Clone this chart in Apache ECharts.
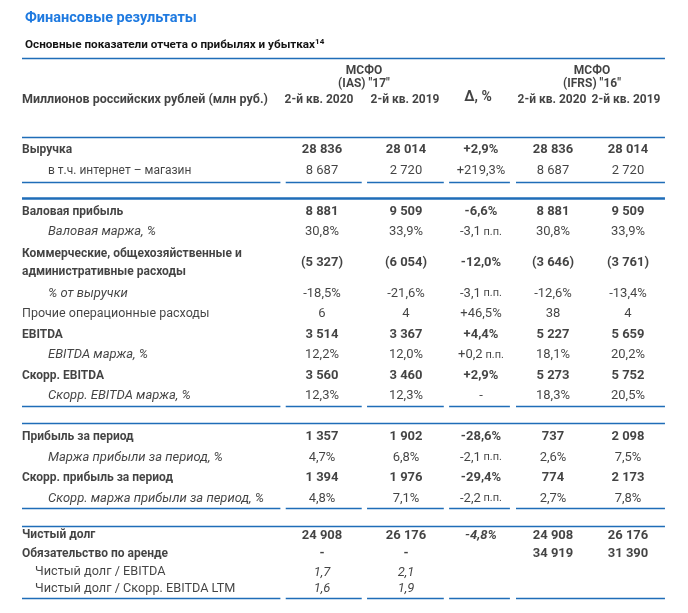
<!DOCTYPE html>
<html><head><meta charset="utf-8">
<script src="https://cdn.jsdelivr.net/npm/echarts@6/dist/echarts.min.js"></script>
<style>html,body{margin:0;padding:0;background:#fff}#c{width:688px;height:613px}</style>
</head><body><div id="c"></div>
<script>
// ---- data ----
const titleText = 'Финансовые результаты';
const subtitleText = 'Основные показатели отчета о прибылях и убытках';
const subtitleNote = '14';
const unitLabel = 'Миллионов российских рублей (млн руб.)';
const groupHeaders = ['МСФО\n(IAS) "17"', 'МСФО\n(IFRS) "16"'];
const colHeaders = ['2-й кв. 2020', '2-й кв. 2019', 'Δ, %', '2-й кв. 2020', '2-й кв. 2019'];
const rowLabels = [
  'Выручка',
  'в т.ч. интернет – магазин',
  'Валовая прибыль',
  'Валовая маржа, %',
  'Коммерческие, общехозяйственные и\nадминистративные расходы',
  '% от выручки',
  'Прочие операционные расходы',
  'EBITDA',
  'EBITDA маржа, %',
  'Скорр. EBITDA',
  'Скорр. EBITDA маржа, %',
  'Прибыль за период',
  'Маржа прибыли за период, %',
  'Скорр. прибыль за период',
  'Скорр. маржа прибыли за период, %',
  'Чистый долг',
  'Обязательство по аренде',
  'Чистый долг / EBITDA',
  'Чистый долг / Скорр. EBITDA LTM'
];
const iasQ2020 = ['28 836','8 687','8 881','30,8%','(5 327)','-18,5%','6','3 514','12,2%','3 560','12,3%','1 357','4,7%','1 394','4,8%','24 908','-','1,7','1,6'];
const iasQ2019 = ['28 014','2 720','9 509','33,9%','(6 054)','-21,6%','4','3 367','12,0%','3 460','12,3%','1 902','6,8%','1 976','7,1%','26 176','-','2,1','1,9'];
const deltaPct = ['+2,9%','+219,3%','-6,6%','-3,1 п.п.','-12,0%','-3,1 п.п.','+46,5%','+4,4%','+0,2 п.п.','+2,9%','-','-28,6%','-2,1 п.п.','-29,4%','-2,2 п.п.','-4,8%','','',''];
const ifrsQ2020 = ['28 836','8 687','8 881','30,8%','(3 646)','-12,6%','38','5 227','18,1%','5 273','18,3%','737','2,6%','774','2,7%','24 908','34 919','',''];
const ifrsQ2019 = ['28 014','2 720','9 509','33,9%','(3 761)','-13,4%','4','5 659','20,2%','5 752','20,5%','2 098','7,5%','2 173','7,8%','26 176','31 390','',''];

// ---- styles / layout ----
// row kinds: b = bold, n = indented normal, i = indented italic, r = regular, s = small indent with italic values
const rowKind = ['b','n','b','i','b','i','r','b','i','b','i','b','i','b','i','b','b','s','s'];
const INK = '#141414';
const BLUE = '#1f6db8';
const FONT = 'Roboto';
const colNudge = [-4, 4, 3, -1, -2];      // fine label alignment per column (px)
const headNudge = [-7, 3, 0, -2, -4];

const rowPos = [];
(function () {
  let p = 0;
  for (let i = 0; i < rowLabels.length; i++) {
    if (i > 0) {
      let step = 1;
      if (i === 2) step = 2;
      if (i === 4 || i === 5) step = 1.5;
      if (i === 11) step = 2;
      if (i === 15) step = 1.8;
      if (i > 15) step = (i === 18 ? 0.8 : 0.9);
      p += step;
    }
    rowPos.push(p);
  }
})();

const valueCols = [iasQ2020, iasQ2019, deltaPct, ifrsQ2020, ifrsQ2019];
const LABEL_X = -4;

function valueStyle(kind, col, r) {
  const s = { fontFamily: FONT, fontSize: 13, color: INK, fontWeight: 'normal', fontStyle: 'normal', offset: [colNudge[col], 0] };
  if (kind === 'b') s.fontWeight = 'bold';
  if (kind === 's') s.fontStyle = 'italic';
  if (r === 15 && col === 2) s.fontStyle = 'italic';
  s.rich = { pp: { fontFamily: FONT, fontSize: 11, color: INK, fontWeight: s.fontWeight } };
  return s;
}
function fmtValue(v) {
  const k = v.indexOf(' п.п.');
  return k >= 0 ? v.slice(0, k) + '{pp| п.п.}' : v;
}
function labelStyle(kind) {
  const s = { fontFamily: FONT, fontSize: 12, color: INK, fontWeight: 'normal', fontStyle: 'normal', offset: [0, 0] };
  if (kind === 'b') { s.fontWeight = 'bold'; s.lineHeight = 18; }
  if (kind === 'n') { s.offset = [26, 0]; s.fontSize = 12; }
  if (kind === 'i') { s.fontStyle = 'italic'; s.offset = [26, 0]; s.fontSize = 13; }
  if (kind === 'r') { s.fontSize = 12.5; }
  if (kind === 's') { s.offset = [13, 0]; s.fontSize = 12.7; }
  return s;
}

const labelData = rowLabels.map((t, r) => ({
  value: [LABEL_X, rowPos[r]], name: t,
  label: Object.assign({ show: true, position: 'right', distance: 0, formatter: t }, labelStyle(rowKind[r]))
}));

const valueSeries = valueCols.map((arr, c) => ({
  type: 'scatter', symbolSize: 0, silent: true, animation: false,
  data: arr.map((v, r) => ({
    value: [c, rowPos[r]],
    label: Object.assign({ show: v !== '', position: 'inside', formatter: fmtValue(v) }, valueStyle(rowKind[r], c, r))
  }))
}));

// header
const H_COL = -2.44, H_GROUP = -3.56, H_DELTA = -2.54;
const headerData = [];
headerData.push({ value: [LABEL_X, H_COL], label: { show: true, position: 'right', distance: 0, formatter: unitLabel, fontFamily: FONT, fontSize: 12.5, fontWeight: 'bold', color: INK } });
colHeaders.forEach((t, c) => {
  const isDelta = c === 2;
  headerData.push({ value: [c, isDelta ? H_DELTA : H_COL], label: { show: true, position: 'inside', offset: [headNudge[c], 0], formatter: t, fontFamily: FONT, fontSize: isDelta ? 14 : 12, fontWeight: 'bold', color: INK } });
});
groupHeaders.forEach((t, g) => {
  headerData.push({ value: [g === 0 ? 0.5 : 3.5, H_GROUP], label: { show: true, position: 'inside', formatter: t, fontFamily: FONT, fontSize: 12, lineHeight: 13, fontWeight: 'bold', color: INK } });
});

// rules
const FULL = [[-4, 4.46]];
const SEG = [[-4, -0.6], [-0.53, 0.47], [0.54, 1.55], [1.62, 2.42], [2.5, 4.46]];
function rule(y, segs, w) {
  return segs.map(s => [{ coord: [s[0], y], lineStyle: { color: BLUE, width: w || 1.3, type: 'solid' } }, { coord: [s[1], y] }]);
}
const rules = [].concat(
  rule(-4.49, FULL),
  rule(-0.63, FULL),
  rule(rowPos[1] + 0.56, SEG),
  rule(rowPos[2] - 0.66, FULL, 2.6),
  rule(rowPos[10] + 0.49, SEG),
  rule(rowPos[11] - 0.68, FULL),
  rule(rowPos[14] + 0.46, SEG),
  rule(rowPos[15] - 0.44, FULL),
  rule(rowPos[18] + 0.48, SEG)
);

const chart = echarts.init(document.getElementById('c'), null, { renderer: 'canvas' });
chart.setOption({
  backgroundColor: '#fff',
  animation: false,
  title: [
    { text: titleText, left: 20, top: 6, textStyle: { fontFamily: FONT, fontSize: 14.5, fontWeight: 'bold', color: '#1f7ae0' } },
    { text: subtitleText + '{sup|' + subtitleNote + '}', left: 20, top: 33,
      textStyle: { fontFamily: FONT, fontSize: 11.7, fontWeight: 'bold', color: INK,
        rich: { sup: { fontFamily: FONT, fontSize: 8, fontWeight: 'bold', color: INK, verticalAlign: 'top', padding: [0, 0, 6, 0] } } } }
  ],
  grid: { left: 22, width: 646, top: 47.5, height: 553.5, containLabel: false },
  xAxis: { type: 'value', min: -4, max: 4.5, show: false },
  yAxis: { type: 'value', min: -5, max: 22, inverse: true, show: false },
  series: [
    { type: 'scatter', symbolSize: 0, silent: true, animation: false, data: labelData,
      markLine: { silent: true, symbol: 'none', animation: false, label: { show: false }, data: rules } },
    { type: 'scatter', symbolSize: 0, silent: true, animation: false, data: headerData }
  ].concat(valueSeries)
});
</script></body></html>
